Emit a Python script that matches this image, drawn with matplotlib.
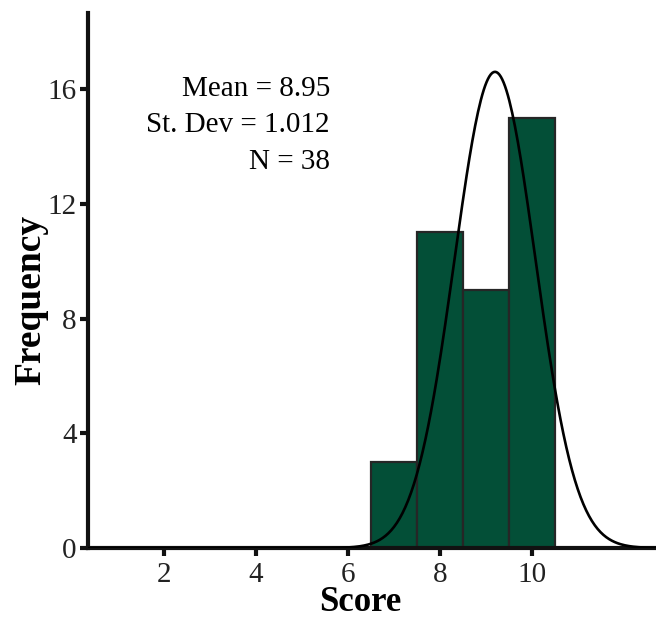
import numpy as np
import matplotlib
matplotlib.use('Agg')
import matplotlib.pyplot as plt

# histogram data (score bins, counts)
scores = [7, 8, 9, 10]
counts = [3, 11, 9, 15]

# summary stats shown in the corner
stats_lines = ['Mean = 8.95', 'St. Dev = 1.012', 'N = 38']

# fitted curve parameters
curve_center = 9.2
curve_sd = 0.88
curve_peak = 16.6

xticks = [2, 4, 6, 8, 10]
yticks = [0, 4, 8, 12, 16]

plt.rcParams['font.family'] = ['Liberation Serif', 'DejaVu Serif']

fig = plt.figure(figsize=(6.56, 6.2), dpi=100)
ax = fig.add_axes([0.134, 0.116, 0.866, 0.863])

# bars
ax.bar(scores, counts, width=1.0, color='#034f37', edgecolor='#262626', linewidth=1.6, zorder=2)

# normal curve overlay
xs = np.linspace(0.35, 12.7, 400)
ys = curve_peak * np.exp(-(xs - curve_center) ** 2 / (2 * curve_sd ** 2))
ax.plot(xs, ys, color='black', linewidth=1.9, zorder=3)

# stats text, right aligned (pixel coords from top-left)
for i, line in enumerate(stats_lines):
    ax.text(330, 620 - (89 + i * 36.5), line, transform=None, fontsize=21, ha='right', va='center')

ax.set_xlim(0.35, 12.7)
ax.set_ylim(0, 18.65)
ax.set_xticks(xticks)
ax.set_yticks(yticks)

for side in ['top', 'right']:
    ax.spines[side].set_visible(False)
for side in ['left', 'bottom']:
    ax.spines[side].set_linewidth(3)
    ax.spines[side].set_color('#111111')

ax.tick_params(axis='both', length=6, width=3, color='#111111', labelsize=21, labelcolor='#222222')
ax.tick_params(axis='x', pad=4)
ax.tick_params(axis='y', pad=2)

ax.set_xlabel('Score', fontsize=25, fontweight='bold')
ax.set_ylabel('Frequency', fontsize=27, fontweight='bold')
ax.xaxis.set_label_coords(0.479, -0.07)
ax.yaxis.set_label_coords(-0.07, 0.463)

plt.savefig('out.png', dpi=100)
